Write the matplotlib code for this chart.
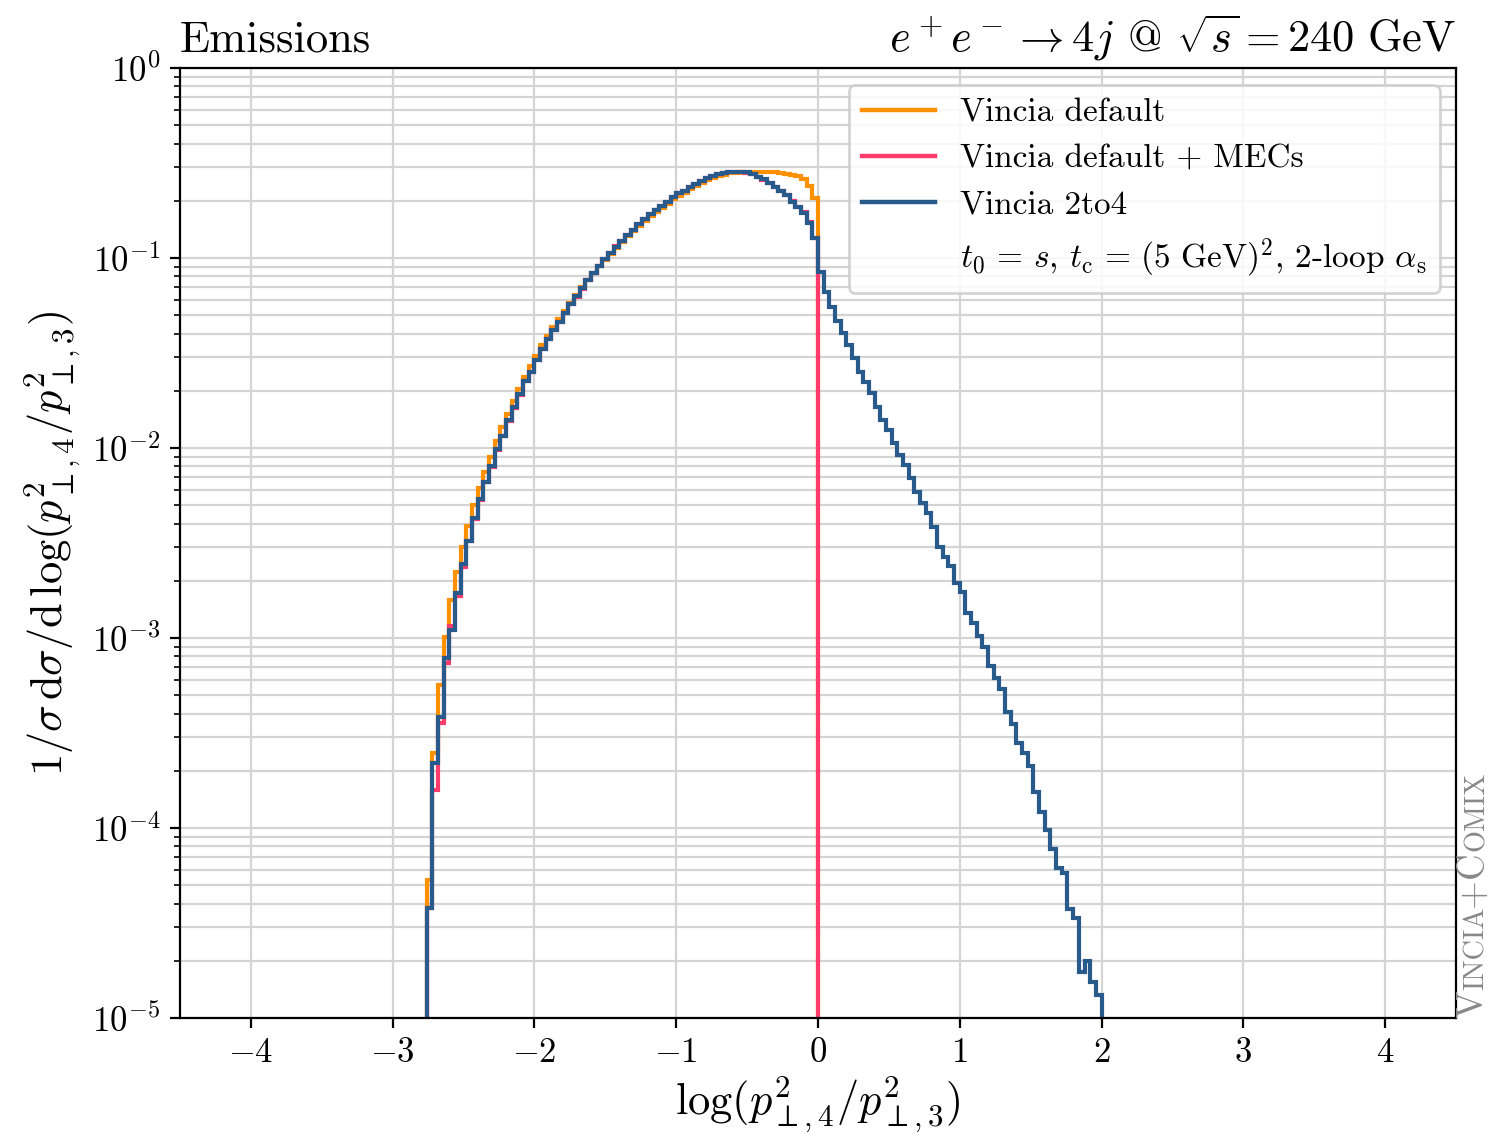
import numpy as np
import matplotlib
matplotlib.use("Agg")
import matplotlib.pyplot as plt
from matplotlib.lines import Line2D

plt.rcParams["font.family"] = "serif"
plt.rcParams["font.serif"] = ["cmr10"]
plt.rcParams["mathtext.fontset"] = "cm"
plt.rcParams["axes.formatter.use_mathtext"] = True
plt.rcParams["axes.unicode_minus"] = True

# histogram bins in log(pT4^2/pT3^2), width 0.04, starting at -2.76
bin_lo = -2.76
bin_w = 0.04

# log10 of bin contents
blue_log = [
    -4.420, -3.660, -3.416, -3.105, -2.958, -2.761, -2.612, -2.488, -2.370, -2.270,
    -2.177, -2.095, -2.007, -1.935, -1.855, -1.786, -1.718, -1.647, -1.598, -1.537,
    -1.480, -1.425, -1.379, -1.335, -1.290, -1.243, -1.202, -1.160, -1.116, -1.081,
    -1.042, -1.007, -0.975, -0.940, -0.909, -0.879, -0.853, -0.823, -0.796, -0.768,
    -0.747, -0.726, -0.704, -0.681, -0.660, -0.646, -0.628, -0.611, -0.593, -0.581,
    -0.568, -0.559, -0.554, -0.549, -0.546, -0.546, -0.549, -0.558, -0.572, -0.586,
    -0.604, -0.625, -0.646, -0.668, -0.704, -0.730, -0.765, -0.814, -0.896, -1.072,
    -1.177, -1.256, -1.330, -1.395, -1.458, -1.528, -1.598, -1.651, -1.712, -1.782,
    -1.853, -1.905, -1.975, -2.037, -2.089, -2.159, -2.230, -2.291, -2.344, -2.414,
    -2.519, -2.572, -2.620, -2.712, -2.758, -2.868, -2.923, -2.989, -3.049, -3.147,
    -3.212, -3.270, -3.391, -3.453, -3.551, -3.607, -3.674, -3.809, -3.914, -4.011,
    -4.112, -4.212, -4.239, -4.428, -4.475, -4.756, -4.698, -4.809, -4.879,
]

red_log = [
    -4.420, -3.800, -3.447, -3.130, -2.935, -2.780, -2.625, -2.492, -2.375, -2.272,
    -2.180, -2.098, -2.009, -1.936, -1.857, -1.787, -1.720, -1.648, -1.600, -1.538,
    -1.481, -1.426, -1.380, -1.336, -1.291, -1.244, -1.203, -1.161, -1.116, -1.081,
    -1.042, -1.006, -0.974, -0.939, -0.908, -0.878, -0.852, -0.822, -0.795, -0.767,
    -0.746, -0.725, -0.703, -0.680, -0.660, -0.645, -0.628, -0.611, -0.594, -0.581,
    -0.569, -0.560, -0.554, -0.549, -0.547, -0.546, -0.550, -0.559, -0.573, -0.587,
    -0.605, -0.626, -0.648, -0.670, -0.702, -0.733, -0.760, -0.810, -0.893,
]

orange_log = [
    -4.274, -3.605, -3.247, -2.995, -2.800, -2.650, -2.520, -2.410, -2.300, -2.210,
    -2.125, -2.045, -1.965, -1.890, -1.820, -1.755, -1.690, -1.625, -1.570, -1.515,
    -1.460, -1.410, -1.365, -1.320, -1.278, -1.235, -1.195, -1.155, -1.115, -1.080,
    -1.044, -1.010, -0.978, -0.945, -0.915, -0.886, -0.859, -0.831, -0.805, -0.779,
    -0.756, -0.735, -0.714, -0.692, -0.672, -0.656, -0.639, -0.622, -0.606, -0.592,
    -0.580, -0.570, -0.562, -0.555, -0.550, -0.547, -0.546, -0.545, -0.545, -0.545,
    -0.546, -0.548, -0.551, -0.556, -0.562, -0.571, -0.585, -0.622, -0.686,
]

labels = ["Vincia default", "Vincia default + MECs", "Vincia 2to4"]
colors = ["#ff9100", "#ff3b6b", "#285a8c"]
extra_label = (r"$t_0 \,=\, s$, $t_\mathrm{c} \,=\, (5\ \mathrm{GeV})^2$, "
               r"2-loop $\alpha_\mathrm{s}$")


def edges_for(n):
    return np.round(bin_lo + bin_w * np.arange(n + 1), 2)


fig = plt.figure(figsize=(7.455, 5.705), dpi=200)
ax = fig.add_axes([0.1207, 0.1078, 0.8558, 0.8326])

for vals, c, lab in zip([orange_log, red_log, blue_log], colors, labels):
    y = 10.0 ** np.array(vals)
    ax.stairs(y, edges_for(len(vals)), baseline=1e-7, color=c, lw=1.5, label=lab)

ax.set_yscale("log")
ax.set_xlim(-4.5, 4.5)
ax.set_ylim(1e-5, 1)
ax.set_xticks([-4, -3, -2, -1, 0, 1, 2, 3, 4])
ax.grid(True, which="both", axis="y", color="#d4d4d4", lw=0.8)
ax.grid(True, which="major", axis="x", color="#d4d4d4", lw=0.8)
ax.set_axisbelow(True)
ax.tick_params(labelsize=12.5)

ax.set_xlabel(r"$\log(p^2_{\perp,4}/p^2_{\perp,3})$", fontsize=16, labelpad=2)
ax.set_ylabel(r"$1/\sigma\,\mathrm{d}\sigma/\mathrm{d}\,\log(p^2_{\perp,4}/p^2_{\perp,3})$",
              fontsize=16, labelpad=3)
ax.set_title("Emissions", loc="left", fontsize=16, pad=6)
ax.set_title(r"$e^+e^- \to 4j$ @ $\sqrt{s} = 240\ \mathrm{GeV}$", loc="right",
             fontsize=16, pad=6)

handles = [Line2D([], [], color=c, lw=1.6) for c in colors]
handles.append(Line2D([], [], color="none"))
ax.legend(handles, labels + [extra_label], loc="upper right", fontsize=12,
          framealpha=0.85, edgecolor="#cccccc", borderaxespad=0.0,
          handlelength=2.2, handletextpad=0.75, labelspacing=0.5,
          bbox_to_anchor=(0.9875, 0.982))

# small-caps tag on the right edge
fig.canvas.draw()
renderer = fig.canvas.get_renderer()
pieces = [("V", 13.3), ("INCIA", 10.2), ("+", 13.3), ("C", 13.3), ("OMIX", 10.2)]
ypos = 0.108
fig_h = fig.get_size_inches()[1] * fig.dpi
for s, size in pieces:
    t = fig.text(0.999, ypos, s, rotation=90, fontsize=size, color="#888888",
                 ha="right", va="bottom")
    ypos += t.get_window_extent(renderer).height / fig_h

fig.savefig("out.png", dpi=200)
